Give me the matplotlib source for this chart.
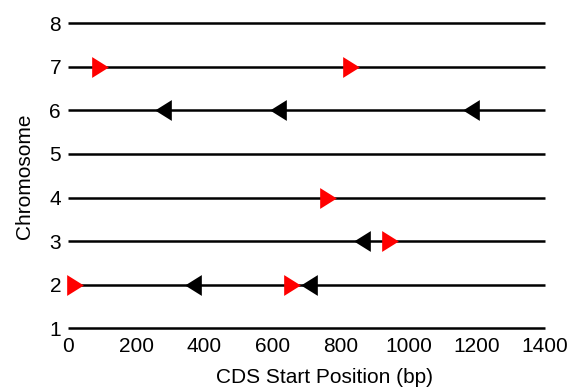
import matplotlib.pyplot as plt

chromosomes = [1, 2, 3, 4, 5, 6, 7, 8]
chr_length = 1400

# CDS starts per chromosome, split by strand
fwd_chr = [7, 7, 4, 3, 2, 2]
fwd_pos = [94, 830, 762, 946, 22, 657]
rev_chr = [6, 6, 6, 3, 2, 2]
rev_pos = [616, 280, 1184, 862, 368, 708]

plt.rcParams['font.family'] = ['Liberation Sans', 'DejaVu Sans']

fig = plt.figure(figsize=(5.69, 3.88), dpi=100)
ax = fig.add_axes([0.1195, 0.154, 0.8385, 0.786])

ax.hlines(chromosomes, 0, chr_length, colors='black', lw=1.8, clip_on=False, zorder=1)

right_tri = [(-0.8, 1), (0.8, 0), (-0.8, -1), (-0.8, 1)]
left_tri = [(0.8, 1), (-0.8, 0), (0.8, -1), (0.8, 1)]
ax.plot(fwd_pos, fwd_chr, ls='none', marker=right_tri, ms=15, color='red',
        mec='none', clip_on=False, zorder=3)
ax.plot(rev_pos, rev_chr, ls='none', marker=left_tri, ms=15, color='black',
        mec='none', clip_on=False, zorder=3)

ax.set_xlim(0, 1400)
ax.set_ylim(1, 8)
ax.set_xticks(range(0, 1401, 200))
ax.set_yticks(chromosomes)
for s in ax.spines.values():
    s.set_visible(False)
ax.tick_params(axis='both', length=0, labelsize=15)
ax.tick_params(axis='y', pad=5)
ax.tick_params(axis='x', pad=6)

ax.set_xlabel('CDS Start Position (bp)', fontsize=15, labelpad=9, x=0.537)
ax.set_ylabel('Chromosome', fontsize=15, labelpad=11)

fig.savefig('out.png', dpi=100)
